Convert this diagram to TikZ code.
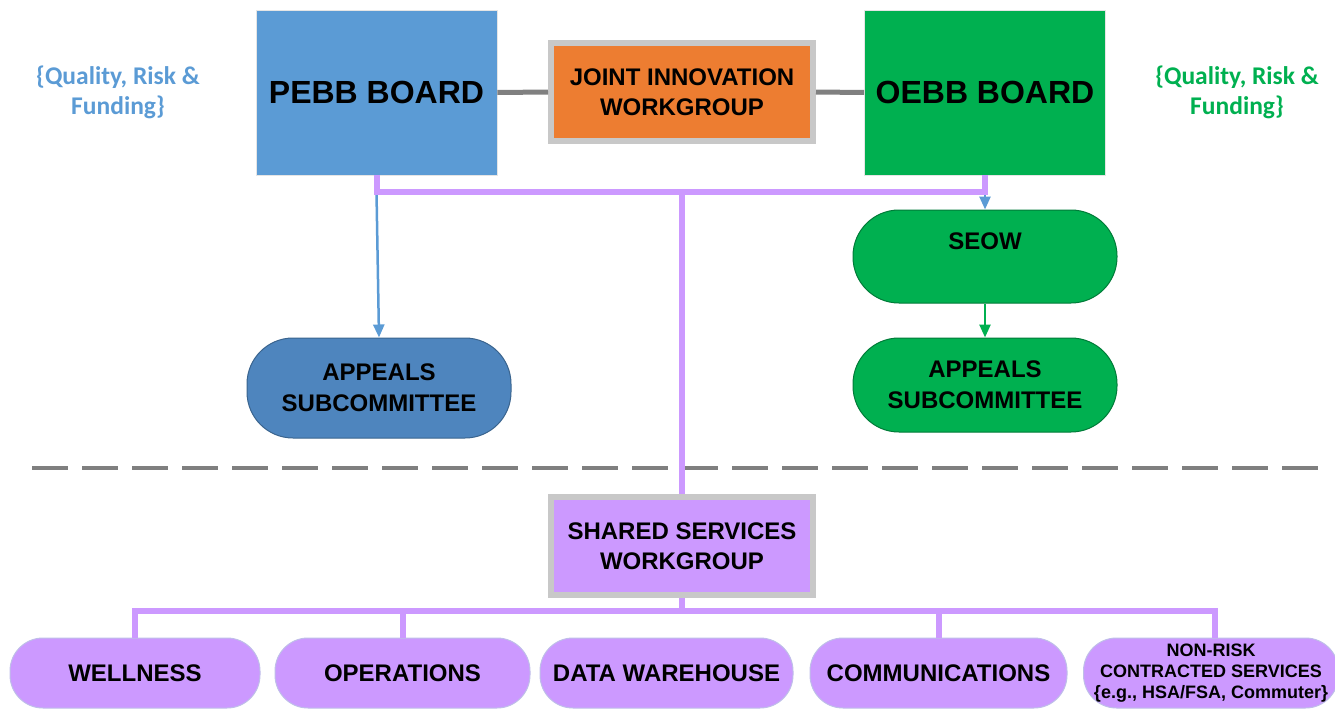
\documentclass[tikz,border=0pt]{standalone}
\usepackage{fontspec}
\setmainfont{Liberation Sans}
\newfontfamily\calib{Carlito}
\usepackage{tikz}
\usetikzlibrary{positioning,arrows.meta}

\definecolor{pebbblue}{HTML}{5B9BD5}
\definecolor{appblue}{HTML}{4E85BE}
\definecolor{oebbgreen}{HTML}{00B050}
\definecolor{jiworange}{HTML}{ED7D31}
\definecolor{sswpurple}{HTML}{CC99FF}
\definecolor{framegray}{HTML}{C8C8C8}
\definecolor{linkgray}{HTML}{808080}
\definecolor{dashgray}{HTML}{7F7F7F}

\tikzset{
	board/.style={rectangle, draw=black!10, line width=0.6pt, minimum width=241pt, minimum height=165pt, inner sep=0pt, font=\bfseries\fontsize{32}{36}\selectfont},
	framed/.style={rectangle, draw=framegray, line width=6pt, minimum width=262pt, minimum height=98pt, inner sep=0pt, align=center, font=\bfseries\fontsize{24}{30}\selectfont},
	pill/.style={rectangle, rounded corners=46pt, line width=1pt, minimum width=264pt, inner sep=0pt, align=center, font=\bfseries\fontsize{24}{31}\selectfont},
	leaf/.style={rectangle, rounded corners=33pt, fill=sswpurple, draw=black!35!blue!25, line width=1pt, minimum height=70pt, inner sep=0pt, align=center, font=\bfseries\fontsize{24}{30}\selectfont},
	purpleline/.style={draw=sswpurple, line width=6pt},
	graylink/.style={draw=linkgray, line width=5pt},
	arrowline/.style={line width=2.5pt, -{Triangle[length=13pt,width=11pt]}},
	note/.style={align=center, font=\calib\bfseries\fontsize{25.5}{30}\selectfont}
}

\begin{document}
\begin{tikzpicture}[x=1pt,y=-1pt]
	\useasboundingbox (0,0) rectangle (1335,712);
	\node[board, fill=pebbblue] (pebb) at (376.5,92.5) {PEBB BOARD};
	\node[board, fill=oebbgreen] (oebb) at (985,92.5) {OEBB BOARD};
	\node[framed, fill=jiworange] (jiw) at (682,92) {JOINT INNOVATION\\WORKGROUP};
	\node[note, text=pebbblue] (qpebb) at (118,92) {\{Quality, Risk \&\\Funding\}};
	\node[note, text=oebbgreen] (qoebb) at (1237,92) {\{Quality, Risk \&\\Funding\}};
	\node[pill, fill=oebbgreen, draw=oebbgreen!70!black, minimum height=93pt] (seow) at (985,256.5) {SEOW\\\phantom{S}};
	\node[pill, fill=appblue, draw=appblue!75!black, minimum height=100pt] (appl) at (379,388) {APPEALS\\SUBCOMMITTEE};
	\node[pill, fill=oebbgreen, draw=oebbgreen!70!black, minimum height=94pt] (appr) at (985,385) {APPEALS\\SUBCOMMITTEE};
	\node[framed, fill=sswpurple] (ssw) at (682,546) {SHARED SERVICES\\WORKGROUP};
	\node[leaf, minimum width=250pt] (well) at (135,673) {WELLNESS};
	\node[leaf, minimum width=255pt] (oper) at (402.5,673) {OPERATIONS};
	\node[leaf, minimum width=253pt] (dwh) at (666.5,673) {DATA WAREHOUSE};
	\node[leaf, minimum width=257pt] (comm) at (938.5,673) {COMMUNICATIONS};
	\node[leaf, minimum width=255pt, font=\bfseries\fontsize{18}{21}\selectfont] (nonr) at (1211,673) {NON-RISK\\CONTRACTED SERVICES\\\{e.g., HSA/FSA, Commuter\}};
	\coordinate (dashl) at (32,468);
	\coordinate (dashr) at (1325,468);
	\coordinate (pebbdrop) at ([yshift=-17pt]pebb.south);
	\coordinate (oebbdrop) at ([yshift=-16pt]oebb.south);
	\coordinate (topjoin) at (ssw.north |- pebbdrop);
	\coordinate (lowjoin) at (682,611);
	\draw[graylink] (pebb.east) -- (jiw.west);
	\draw[graylink] (jiw.east) -- (oebb.west);
	\draw[dashgray, line width=4pt, dash pattern=on 36pt off 14pt] (dashl) -- (dashr);
	\draw[arrowline, pebbblue] (pebbdrop) -- (appl.north);
	\draw[arrowline, pebbblue] (oebbdrop) -- (seow.north);
	\draw[arrowline, oebbgreen] (seow.south) -- (appr.north);
	\draw[purpleline] (pebb.south) -- (pebbdrop) -| (oebb.south);
	\draw[purpleline] (topjoin) -- (ssw.north);
	\draw[purpleline] (ssw.south) -- (lowjoin);
	\draw[purpleline] (well.north) |- (lowjoin) -| ([xshift=4pt]nonr.north);
	\draw[purpleline] (oper.north) -- (oper.north |- lowjoin);
	\draw[purpleline] (comm.north) -- (comm.north |- lowjoin);
\end{tikzpicture}
\end{document}
